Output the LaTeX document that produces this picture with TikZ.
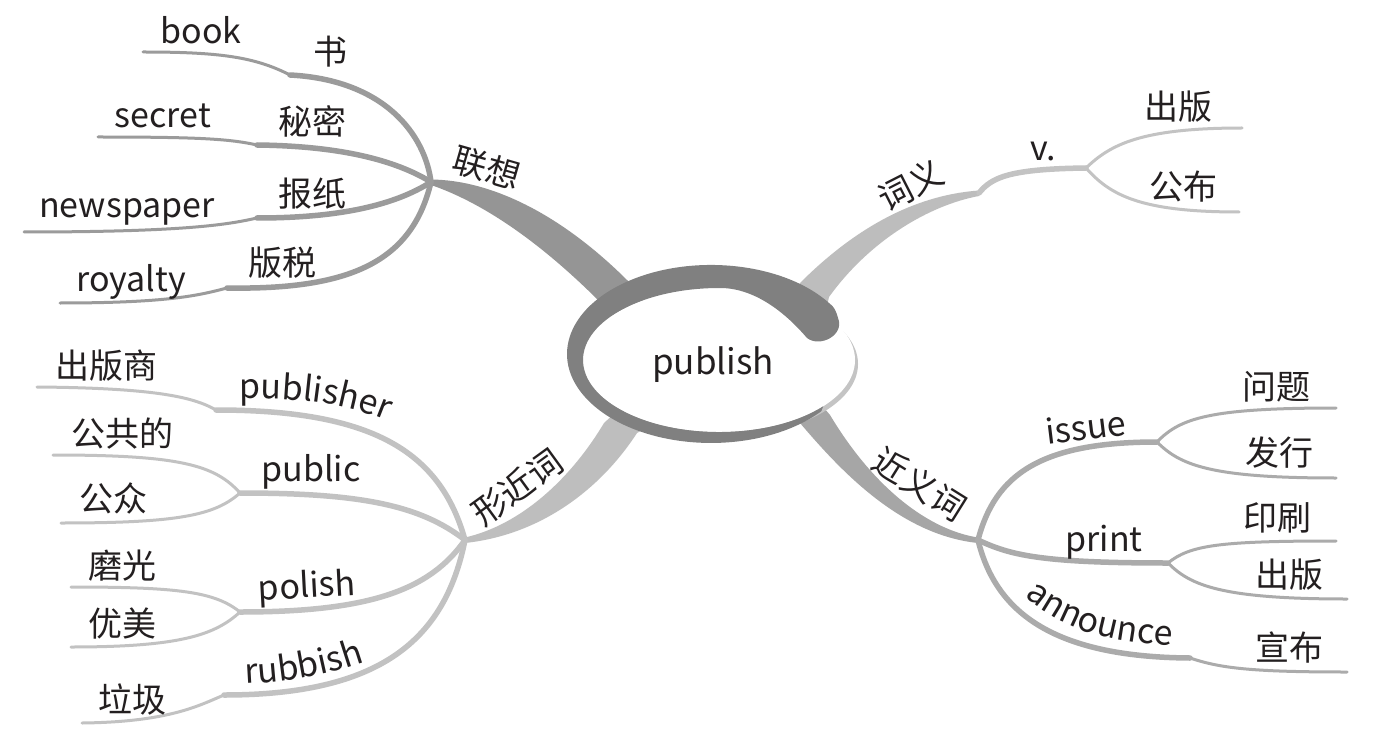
\documentclass[tikz,border=0pt]{standalone}
\usepackage{fontspec}
\setmainfont{Noto Sans CJK SC}
\usetikzlibrary{decorations.text}
\definecolor{txt}{HTML}{231F20}
\definecolor{ringc}{HTML}{808080}
\definecolor{shad}{HTML}{C4C4C4}
\definecolor{gA}{HTML}{959595}
\definecolor{gAs}{HTML}{9B9B9B}
\definecolor{gB}{HTML}{BDBDBD}
\definecolor{gBs}{HTML}{C3C3C3}
\definecolor{gC}{HTML}{A6A6A6}
\definecolor{gCs}{HTML}{ABABAB}
\definecolor{gD}{HTML}{BEBEBE}
\definecolor{gDs}{HTML}{C2C2C2}
\newcommand\lblfont{\fontsize{34}{40}\selectfont}
\begin{document}
\begin{tikzpicture}[x=1pt,y=-1pt,
  lbl/.style={font=\lblfont, text=txt, inner sep=0pt},
  inseg/.style={line width=5.5pt, line cap=round},
  outseg/.style={line width=3pt, line cap=round}]
\useasboundingbox (0,0) rectangle (1380,751);
\fill[white] (0,0) rectangle (1380,751);

% coordinates
\coordinate (J1) at (431,182);
\coordinate (b1) at (290,75);  \coordinate (b1e) at (143,52);
\coordinate (b2) at (257,145); \coordinate (b2e) at (98,137);
\coordinate (b3) at (257,218); \coordinate (b3e) at (24,232);
\coordinate (b4) at (227,288); \coordinate (b4e) at (60,303);
\coordinate (J2) at (979,193); \coordinate (V) at (1086,168);
\coordinate (c1e) at (1242,128); \coordinate (c2e) at (1239,212);
\coordinate (J3) at (978,540);
\coordinate (I) at (1157,442); \coordinate (i1e) at (1336,408); \coordinate (i2e) at (1336,478);
\coordinate (P) at (1168,563); \coordinate (p1e) at (1336,541); \coordinate (p2e) at (1347,599);
\coordinate (A) at (1190,658); \coordinate (a1e) at (1347,672);
\coordinate (J4) at (465,540);
\coordinate (d1) at (216,410); \coordinate (d1e) at (37,387);
\coordinate (PU) at (240,493); \coordinate (u1e) at (53,455); \coordinate (u2e) at (61,523);
\coordinate (PO) at (240,612); \coordinate (o1e) at (71,587); \coordinate (o2e) at (71,647);
\coordinate (R) at (224,695); \coordinate (r1e) at (82,723);

% main tapered branches
\fill[gA] (431,179.5) .. controls (490,180) and (560,213) .. (628,281) -- (665,330) -- (645,345) -- (600,302) .. controls (555,257) and (495,207) .. (431,185) -- cycle;
\fill[gB] (979,190.5) .. controls (930,194) and (868,215) .. (800,283) -- (790,320) -- (825,315) -- (829,297) .. controls (870,240) and (930,205) .. (979,196) -- cycle;
\fill[gC] (978,537.5) .. controls (930,530) and (875,490) .. (830,415) -- (800,380) -- (780,400) -- (800,423) .. controls (840,470) and (900,535) .. (978,543) -- cycle;
\fill[gD] (465,537.5) .. controls (520,525) and (570,480) .. (604,423) -- (640,390) -- (660,420) -- (637,433) .. controls (600,490) and (540,535) .. (465,543) -- cycle;

% 联想 subs
\draw[gAs,inseg] (J1) .. controls (425,135) and (385,80) .. (b1);
\draw[gAs,outseg] (b1) .. controls (255,57) and (220,52) .. (b1e);
\draw[gAs,inseg] (J1) .. controls (395,160) and (340,146) .. (b2);
\draw[gAs,outseg] (b2) .. controls (230,139) and (200,137) .. (b2e);
\draw[gAs,inseg] (J1) .. controls (395,205) and (340,218) .. (b3);
\draw[gAs,outseg] (b3) .. controls (230,224) and (190,232) .. (b3e);
\draw[gAs,inseg] (J1) .. controls (412,262) and (350,290) .. (b4);
\draw[gAs,outseg] (b4) .. controls (200,295) and (170,303) .. (b4e);

% 词义 subs
\draw[gBs,inseg] (J2) .. controls (992,177) and (1010,169) .. (V);
\draw[gBs,outseg] (V) .. controls (1110,145) and (1140,128) .. (c1e);
\draw[gBs,outseg] (V) .. controls (1110,195) and (1140,212) .. (c2e);

% 近义词 subs
\draw[gCs,inseg] (J3) .. controls (995,475) and (1040,442) .. (I);
\draw[gCs,outseg] (I) .. controls (1180,418) and (1210,408) .. (i1e);
\draw[gCs,outseg] (I) .. controls (1180,465) and (1210,478) .. (i2e);
\draw[gCs,inseg] (J3) .. controls (1010,555) and (1040,563) .. (P);
\draw[gCs,outseg] (P) .. controls (1190,545) and (1220,541) .. (p1e);
\draw[gCs,outseg] (P) .. controls (1190,585) and (1220,599) .. (p2e);
\draw[gCs,inseg] (J3) .. controls (995,610) and (1050,657) .. (A);
\draw[gCs,outseg] (A) .. controls (1220,668) and (1250,672) .. (a1e);

% 形近词 subs
\draw[gDs,inseg] (J4) .. controls (440,450) and (370,410) .. (d1);
\draw[gDs,outseg] (d1) .. controls (195,398) and (160,388) .. (d1e);
\draw[gDs,inseg] (J4) .. controls (420,505) and (360,493) .. (PU);
\draw[gDs,outseg] (PU) .. controls (215,465) and (180,455) .. (u1e);
\draw[gDs,outseg] (PU) .. controls (215,515) and (180,523) .. (u2e);
\draw[gDs,inseg] (J4) .. controls (430,590) and (370,612) .. (PO);
\draw[gDs,outseg] (PO) .. controls (215,592) and (180,587) .. (o1e);
\draw[gDs,outseg] (PO) .. controls (215,635) and (180,647) .. (o2e);
\draw[gDs,inseg] (J4) .. controls (445,640) and (380,695) .. (R);
\draw[gDs,outseg] (R) .. controls (200,705) and (170,722) .. (r1e);

% central swirl
\fill[shad] (722,364) ellipse[x radius=136, y radius=72];
\fill[white] (719,360) ellipse[x radius=136, y radius=72];
\fill[ringc] (830.4,304.2) arc[start angle=-34, end angle=-320, x radius=144, y radius=89]
  -- (823.2,406.3) arc[start angle=40, end angle=272, x radius=136, y radius=72]
  .. controls (760,290) and (790,318) .. (807,338)
  .. controls (820,348) and (845,335) .. (838,318)
  .. controls (836,310) and (833,306) .. (830.4,304.2) -- cycle;
\node[lbl, font=\fontsize{35}{40}\selectfont] (pub) at (713,365) {publish};

% labels
\node[lbl, rotate=-16] (lx) at (487,168) {联想};
\node[lbl, rotate=27] (cy) at (911,185) {词义};
\node[lbl, rotate=-32] (jy) at (920,484) {近义词};
\node[lbl, rotate=36] (xj) at (517,487) {形近词};

\node[lbl] (t1) at (201,30) {book};
\node[lbl] (t2) at (330,52) {书};
\node[lbl] (t3) at (163,116) {secret};
\node[lbl] (t4) at (312,121) {秘密};
\node[lbl] (t5) at (127,212) {newspaper};
\node[lbl] (t6) at (312,194) {报纸};
\node[lbl] (t7) at (131,282) {royalty};
\node[lbl] (t8) at (282,263) {版税};

\node[lbl] (v) at (1043,151) {v.};
\node[lbl] (cb1) at (1178,107) {出版};
\node[lbl] (gb) at (1183,187) {公布};

\node[lbl, rotate=7] (iss) at (1086,427) {issue};
\node[lbl] (wt) at (1276,387) {问题};
\node[lbl] (fx) at (1279,453) {发行};
\node[lbl] (pr) at (1104,542) {print};
\node[lbl] (ys) at (1277,518) {印刷};
\node[lbl] (cb2) at (1289,575) {出版};
\node[lbl] (xb) at (1289,648) {宣布};
\path[decorate, decoration={text along path, text align=center, text={|\lblfont\color{txt}|announce}}] (1026,598) .. controls (1060,626) and (1100,642) .. (1170,645);

\node[lbl] (cbs) at (106,366) {出版商};
\path[decorate, decoration={text along path, text align=center, text={|\lblfont\color{txt}|publisher}}] (234,399) .. controls (300,397) and (350,404) .. (392,423);
\node[lbl] (ggd) at (122,434) {公共的};
\node[lbl] (pl) at (311,472) {public};
\node[lbl] (gz) at (113,498) {公众};
\node[lbl] (mg) at (122,566) {磨光};
\node[lbl, rotate=3] (po) at (307,588) {polish};
\node[lbl] (ym) at (122,624) {优美};
\path[decorate, decoration={text along path, text align=center, text={|\lblfont\color{txt}|rubbish}}] (244,684) .. controls (290,682) and (330,675) .. (366,662);
\node[lbl] (lj) at (132,699) {垃圾};
\end{tikzpicture}
\end{document}
